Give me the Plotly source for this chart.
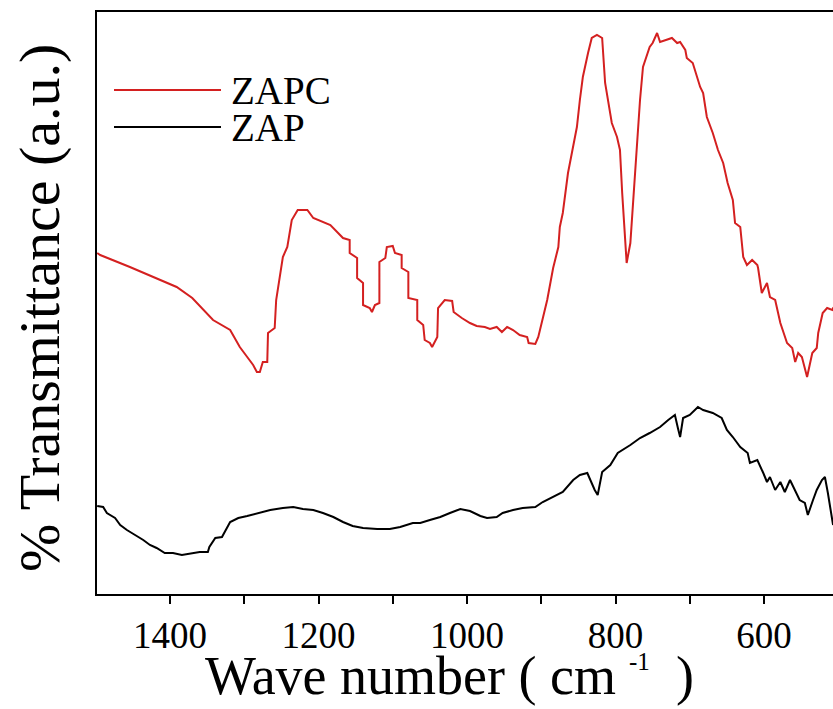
import plotly.graph_objects as go

# ZAPC (red) spectrum: wavenumber (cm-1) and transmittance (a.u.)
zapc_wn = [1498, 1494, 1454, 1423, 1391, 1370, 1342, 1319, 1306, 1296, 1288, 1283, 1279, 1275, 1269,
           1268, 1259, 1257, 1248, 1242, 1236, 1228, 1215, 1207, 1184, 1167, 1158, 1158, 1148, 1148,
           1140, 1140, 1131, 1128, 1124, 1118, 1118, 1110, 1108, 1100, 1097, 1088, 1088, 1079, 1079,
           1067, 1067, 1059, 1057, 1050, 1047, 1040, 1039, 1030, 1020, 1018, 1007, 996, 987, 976,
           969, 960, 953, 946, 938, 929, 919, 917, 908, 904, 892, 884, 877, 875, 871,
           864, 857, 852, 848, 844, 837, 832, 825, 818, 814, 810, 805, 798, 794, 791,
           787, 785, 780, 776, 771, 767, 763, 754, 750, 744, 740, 733, 724, 717, 713,
           706, 704, 696, 686, 682, 677, 669, 662, 655, 649, 642, 639, 632, 628, 623,
           616, 609, 608, 603, 596, 592, 585, 578, 569, 562, 558, 554, 549, 542, 535,
           529, 527, 521, 515, 508, 507, 500]
zapc_t = [341, 339, 327, 317, 307, 296, 274, 264, 247, 237, 229, 222, 222, 232, 232,
          261, 266, 294, 337, 347, 374, 384, 384, 376, 369, 356, 354, 341, 336, 316,
          311, 289, 286, 282, 289, 291, 332, 336, 347, 348, 341, 339, 326, 322, 296,
          294, 274, 269, 254, 251, 247, 257, 286, 294, 293, 282, 276, 271, 268, 267,
          265, 267, 262, 267, 264, 259, 257, 251, 250, 257, 294, 326, 347, 367, 381,
          421, 447, 467, 494, 517, 541, 556, 559, 556, 511, 494, 471, 457, 444, 401,
          361, 331, 351, 394, 454, 494, 527, 547, 551, 561, 552, 554, 556, 551, 552,
          544, 536, 531, 507, 501, 477, 461, 444, 431, 411, 394, 371, 367, 337, 329,
          334, 329, 326, 301, 311, 297, 294, 271, 251, 246, 232, 241, 237, 217, 241,
          246, 261, 281, 286, 284, 286, 290]

# ZAP (black) spectrum
zap_wn = [1498, 1490, 1485, 1474, 1467, 1458, 1447, 1436, 1427, 1418, 1407, 1396, 1384, 1370, 1360,
          1349, 1347, 1339, 1330, 1319, 1308, 1296, 1281, 1265, 1248, 1234, 1221, 1207, 1194, 1180,
          1167, 1154, 1140, 1121, 1104, 1090, 1073, 1063, 1050, 1036, 1023, 1009, 996, 982, 973,
          960, 952, 938, 925, 908, 898, 884, 871, 857, 848, 838, 834, 828, 824, 818,
          807, 797, 780, 767, 754, 740, 729, 720, 716, 713, 709, 700, 689, 682, 669,
          657, 650, 642, 632, 622, 619, 609, 601, 596, 592, 585, 578, 572, 565, 558,
          552, 545, 541, 534, 529, 522, 518, 514, 507]
zap_t = [88, 87, 81, 76, 69, 64, 59, 54, 49, 46, 41, 41, 39, 41, 42,
         42, 47, 56, 57, 72, 76, 78, 81, 84, 86, 87, 85, 84, 81, 77,
         72, 68, 66, 65, 65, 67, 71, 71, 74, 77, 81, 85, 83, 78, 76,
         77, 81, 84, 86, 87, 92, 97, 102, 114, 119, 121, 114, 104, 99, 122,
         129, 141, 149, 156, 161, 167, 174, 179, 166, 157, 176, 179, 187, 184, 181,
         176, 164, 157, 147, 141, 131, 134, 121, 112, 117, 104, 112, 102, 114, 104,
         94, 91, 79, 94, 104, 114, 117, 101, 69]

series_names = ["ZAPC", "ZAP"]
series_colors = ["#d42020", "#000000"]
x_tick_vals = [1400, 1200, 1000, 800, 600]
x_title_parts = ["Wave number ( cm", "-1", ")"]
y_title = "% Transmittance (a.u.)"

FONT = "Liberation Serif"
W, H = 833, 709
L, R, T, B = 97, 0, 12, 115
PW, PH = W - L - R, H - T - B

def px_x(p):
    return (p - L) / PW

def px_y(p):
    return (H - B - p) / PH

fig = go.Figure()
fig.add_trace(go.Scatter(x=zapc_wn, y=zapc_t, mode="lines", name=series_names[0],
                         line=dict(color=series_colors[0], width=2), showlegend=False))
fig.add_trace(go.Scatter(x=zap_wn, y=zap_t, mode="lines", name=series_names[1],
                         line=dict(color=series_colors[1], width=2), showlegend=False))

# manual legend
leg_rows = [(90, 91), (127, 128)]
for (ly, ty), name, col in zip(leg_rows, series_names, series_colors):
    fig.add_shape(type="line", xref="paper", yref="paper",
                  x0=px_x(114), x1=px_x(221), y0=px_y(ly), y1=px_y(ly),
                  line=dict(color=col, width=2))
    fig.add_annotation(text=name, xref="paper", yref="paper", x=px_x(229), y=px_y(ty),
                       xanchor="left", yanchor="middle", showarrow=False,
                       font=dict(family=FONT, size=39, color="black"))

# x-axis title (main text, superscript, closing bracket)
fig.add_annotation(text=x_title_parts[0], xref="paper", yref="paper",
                   x=px_x(203), y=px_y(708), xanchor="left", yanchor="bottom",
                   showarrow=False, font=dict(family=FONT, size=54, color="black"))
fig.add_annotation(text=x_title_parts[1], xref="paper", yref="paper",
                   x=px_x(627), y=px_y(661), xanchor="left", yanchor="middle",
                   showarrow=False, font=dict(family=FONT, size=25, color="black"))
fig.add_annotation(text=x_title_parts[2], xref="paper", yref="paper",
                   x=px_x(674), y=px_y(708), xanchor="left", yanchor="bottom",
                   showarrow=False, font=dict(family=FONT, size=54, color="black"))
# y-axis title
fig.add_annotation(text=y_title, xref="paper", yref="paper",
                   x=px_x(39), y=px_y(308), xanchor="center", yanchor="middle",
                   textangle=-90, showarrow=False, font=dict(family=FONT, size=58, color="black"))

fig.update_layout(
    width=W, height=H,
    margin=dict(l=L, r=R, t=T, b=B),
    paper_bgcolor="white", plot_bgcolor="white",
    font=dict(family=FONT, color="black"),
    xaxis=dict(range=[1498.3, 507.1], tickvals=x_tick_vals, ticks="outside", ticklen=8,
               tickwidth=2, tickcolor="black", showline=True, linecolor="black", linewidth=2,
               mirror=True, showgrid=False, zeroline=False,
               tickfont=dict(family=FONT, size=37, color="black"),
               minor=dict(dtick=100, tick0=500, ticks="outside", ticklen=8, tickwidth=2,
                          tickcolor="black", showgrid=False)),
    yaxis=dict(range=[0, 582], showticklabels=False, ticks="", showline=True,
               linecolor="black", linewidth=2, showgrid=False, zeroline=False),
)

fig.write_html("out.html")
